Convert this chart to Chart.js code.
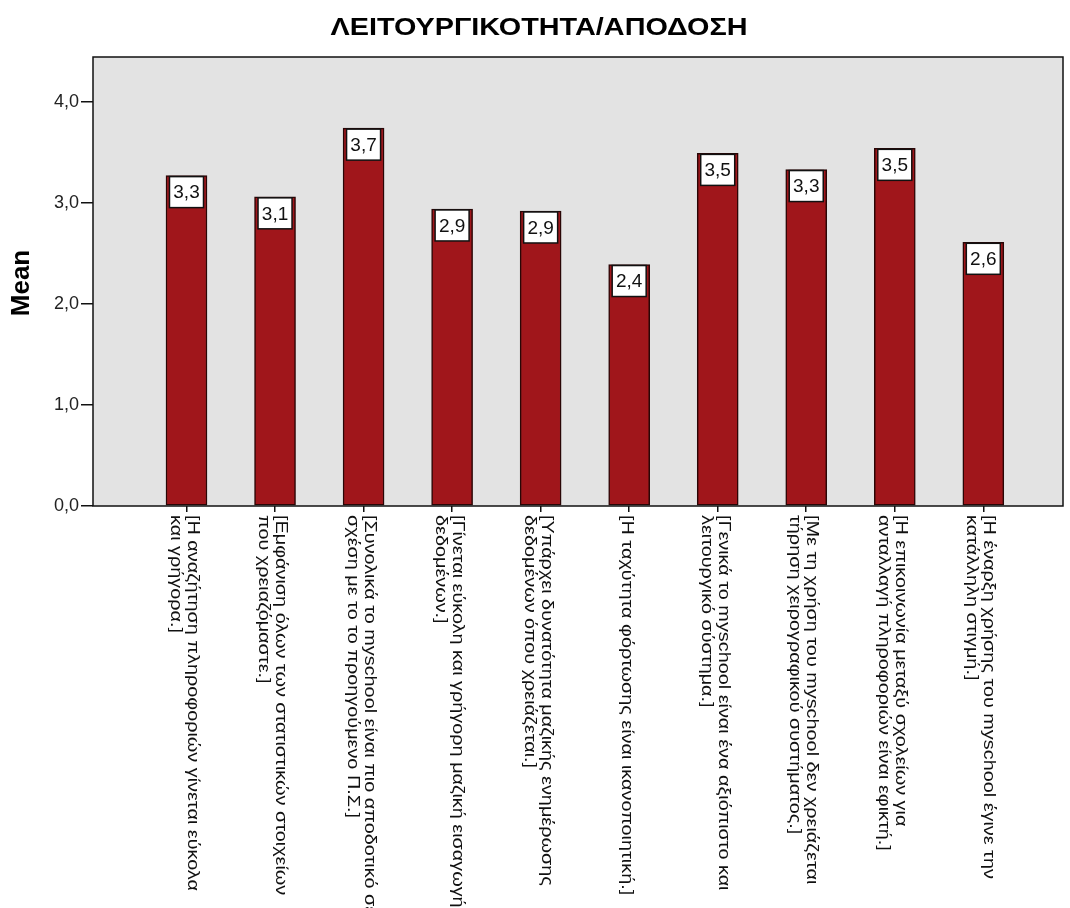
<!DOCTYPE html>
<html>
<head>
<meta charset="utf-8">
<script src="https://cdn.jsdelivr.net/npm/chart.js@4/dist/chart.umd.min.js"></script>
<style>
  body { margin: 0; background: #fff; }
  #chart { display: block; }
</style>
</head>
<body>
<canvas id="chart" width="1070" height="908"></canvas>
<script>
const chartTitle = "ΛΕΙΤΟΥΡΓΙΚΟΤΗΤΑ/ΑΠΟΔΟΣΗ";
const yTitle = "Mean";

const categories = [
    ["[Η αναζήτηση πληροφοριών γίνεται εύκολα", "και γρήγορα.]"],
    ["[Εμφάνιση όλων των στατιστικών στοιχείων", "που χρειαζόμαστε.]"],
    ["[Συνολικά το myschool είναι πιο αποδοτικό σε", "σχέση με το το προηγούμενο Π.Σ.]"],
    ["[Γίνεται εύκολη και γρήγορη μαζική εισαγωγή", "δεδομένων.]"],
    ["[Υπάρχει δυνατότητα μαζικής ενημέρωσης", "δεδομένων όπου χρειάζεται.]"],
    ["[Η ταχύτητα φόρτωσης είναι ικανοποιητική.]"],
    ["[Γενικά το myschool είναι ένα αξιόπιστο και", "λειτουργικό σύστημα.]"],
    ["[Με τη χρήση του myschool δεν χρειάζεται", "τήρηση χειρογραφικού συστήματος.]"],
    ["[Η επικοινωνία μεταξύ σχολείων για", "ανταλλαγή πληροφοριών είναι εφικτή.]"],
    ["[Η έναρξη χρήσης του myschool έγινε την", "κατάλληλη στιγμή.]"]
];
const means = [3.27, 3.06, 3.74, 2.94, 2.92, 2.39, 3.49, 3.33, 3.54, 2.61];
const yTicks = [0, 1, 2, 3, 4];

const fmt = v => v.toFixed(1).replace(".", ",");

const canvas = document.getElementById("chart");

// background of the plot, frame, titles, rotated category labels, value boxes
const spssLook = {
    id: "spssLook",
    beforeDraw(chart) {
        const { ctx, chartArea: a } = chart;
        ctx.save();
        ctx.fillStyle = "#e3e3e3";
        ctx.fillRect(a.left, a.top, a.right - a.left, a.bottom - a.top);
        ctx.restore();
    },
    afterDatasetsDraw(chart) {
        const ctx = chart.ctx;
        const meta = chart.getDatasetMeta(0);
        ctx.save();
        meta.data.forEach((bar, i) => {
            const w = 34, h = 31;
            const x = bar.x - w / 2, y = bar.y + 1;
            ctx.fillStyle = "#fff";
            ctx.fillRect(x, y, w, h);
            ctx.strokeStyle = "#111";
            ctx.lineWidth = 1.5;
            ctx.strokeRect(x, y, w, h);
            ctx.fillStyle = "#111";
            ctx.font = "19px 'Liberation Sans', Arial, sans-serif";
            ctx.textAlign = "center";
            ctx.textBaseline = "middle";
            ctx.fillText(fmt(means[i]), bar.x, y + h / 2 + 1);
        });
        ctx.restore();
    },
    afterDraw(chart) {
        const { ctx, chartArea: a } = chart;
        const xs = chart.scales.x;
        ctx.save();
        ctx.strokeStyle = "#111";
        ctx.lineWidth = 1.5;
        ctx.strokeRect(a.left, a.top, a.right - a.left, a.bottom - a.top);

        // title, slightly widened
        ctx.fillStyle = "#000";
        ctx.font = "bold 24px 'Liberation Sans', Arial, sans-serif";
        ctx.textAlign = "center";
        ctx.textBaseline = "middle";
        ctx.save();
        ctx.translate(539, 28);
        ctx.scale(1.2, 1);
        ctx.fillText(chartTitle, 0, 0);
        ctx.restore();

        // y axis title
        ctx.save();
        ctx.translate(22, 283);
        ctx.rotate(-Math.PI / 2);
        ctx.font = "bold 26px 'Liberation Sans', Arial, sans-serif";
        ctx.fillText(yTitle, 0, 0);
        ctx.restore();

        // category labels, read top to bottom
        ctx.fillStyle = "#111";
        ctx.font = "16px 'Liberation Sans', Arial, sans-serif";
        ctx.textAlign = "left";
        ctx.textBaseline = "middle";
        const lineH = 17;
        categories.forEach((lines, i) => {
            const cx = xs.getPixelForValue(i) - 3;
            ctx.save();
            ctx.translate(cx, a.bottom + 9);
            ctx.rotate(Math.PI / 2);
            ctx.scale(1.24, 1);
            lines.forEach((t, j) => {
                const off = (j - (lines.length - 1) / 2) * lineH;
                ctx.fillText(t, 0, off);
            });
            ctx.restore();
        });
        ctx.restore();
    }
};

new Chart(canvas, {
    type: "bar",
    data: {
        datasets: [{
            data: means.map((m, i) => ({ x: i, y: m })),
            backgroundColor: "#a0161b",
            borderColor: "#2a0606",
            borderWidth: 1.5,
            borderSkipped: false,
            barThickness: 41
        }]
    },
    options: {
        responsive: false,
        animation: false,
        layout: { padding: { top: 57, right: 7, left: 0, bottom: 0 } },
        plugins: {
            legend: { display: false },
            tooltip: { enabled: false }
        },
        scales: {
            x: {
                type: "linear",
                offset: false,
                min: -1.056,
                max: 9.9,
                afterBuildTicks: s => { s.ticks = categories.map((c, i) => ({ value: i })); },
                afterFit: s => { s.height = 402; },
                ticks: { display: false },
                grid: { offset: false, drawOnChartArea: false, drawTicks: true, tickLength: 6, color: "#111", lineWidth: 1.5 },
                border: { display: false }
            },
            y: {
                min: 0,
                max: 4.444,
                afterBuildTicks: s => { s.ticks = yTicks.map(v => ({ value: v })); },
                afterFit: s => { s.width = 93; },
                ticks: {
                    callback: v => fmt(v),
                    color: "#222",
                    padding: 2,
                    font: { family: "'Liberation Sans', Arial, sans-serif", size: 18 }
                },
                grid: { drawOnChartArea: false, drawTicks: true, tickLength: 12, color: "#111", lineWidth: 1.5 },
                border: { display: false }
            }
        }
    },
    plugins: [spssLook]
});
</script>
</body>
</html>
